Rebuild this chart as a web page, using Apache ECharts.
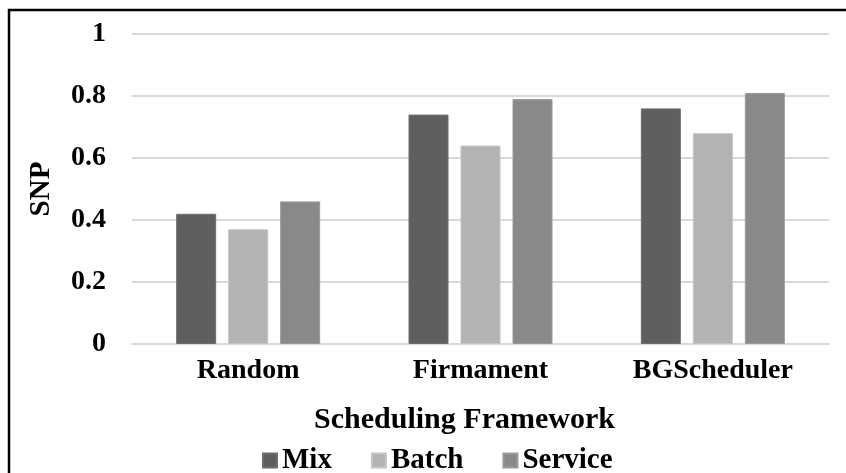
<!DOCTYPE html>
<html>
<head>
<meta charset="utf-8">
<script src="https://cdn.jsdelivr.net/npm/echarts@6/dist/echarts.min.js"></script>
<style>
  html, body { margin: 0; padding: 0; background: #fff; }
  #chart { width: 846px; height: 473px; }
</style>
</head>
<body>
<div id="chart"></div>
<script>
// Scheduling frameworks compared on SNP
const categories = ['Random', 'Firmament', 'BGScheduler'];
const mixValues = [0.42, 0.74, 0.76];
const batchValues = [0.37, 0.64, 0.68];
const serviceValues = [0.46, 0.79, 0.81];
const seriesNames = ['Mix', 'Batch', 'Service'];

const serif = '"Liberation Serif", "Times New Roman", serif';
const gridColor = '#d9d9d9';

const chart = echarts.init(document.getElementById('chart'), null, { renderer: 'canvas' });

function barSeries(name, data, color, edge) {
  return {
    name: name,
    type: 'bar',
    data: data,
    barWidth: 40,
    barGap: '30%',
    itemStyle: { color: color, borderColor: edge, borderWidth: 1 }
  };
}

chart.setOption({
  backgroundColor: '#ffffff',
  animation: false,
  textStyle: { fontFamily: serif, fontWeight: 'bold', color: '#000' },
  graphic: [{
    type: 'rect',
    shape: { x: 9, y: 10, width: 1000, height: 1000 },
    style: { fill: 'none', stroke: '#000', lineWidth: 2.5 },
    silent: true
  }],
  grid: { left: 132, right: 17, top: 34, bottom: 129 },
  legend: {
    data: seriesNames,
    left: 257,
    top: 441,
    itemWidth: 14,
    itemHeight: 14,
    itemGap: 39,
    icon: 'rect',
    textStyle: { fontFamily: serif, fontWeight: 'bold', fontSize: 29, color: '#000' }
  },
  xAxis: {
    type: 'category',
    data: categories,
    axisLine: { lineStyle: { color: gridColor, width: 2 } },
    axisTick: { show: false },
    axisLabel: { fontFamily: serif, fontWeight: 'bold', fontSize: 28, color: '#000', margin: 13 },
    name: 'Scheduling Framework',
    nameLocation: 'middle',
    nameGap: 61,
    nameTextStyle: { fontFamily: serif, fontWeight: 'bold', fontSize: 30, color: '#000', padding: [0, 32, 0, 0] }
  },
  yAxis: {
    type: 'value',
    min: 0,
    max: 1,
    interval: 0.2,
    axisLine: { show: false },
    axisTick: { show: false },
    splitLine: { lineStyle: { color: gridColor, width: 2 } },
    axisLabel: { fontFamily: serif, fontWeight: 'bold', fontSize: 28, color: '#000', margin: 26 },
    name: 'SNP',
    nameLocation: 'middle',
    nameGap: 76,
    nameRotate: 90,
    nameTextStyle: { fontFamily: serif, fontWeight: 'bold', fontSize: 29, color: '#000' }
  },
  series: [
    barSeries('Mix', mixValues, '#5f5f5f', '#6e6e6e'),
    barSeries('Batch', batchValues, '#b3b3b3', '#c4c4c4'),
    barSeries('Service', serviceValues, '#898989', '#9a9a9a')
  ]
});
</script>
</body>
</html>
